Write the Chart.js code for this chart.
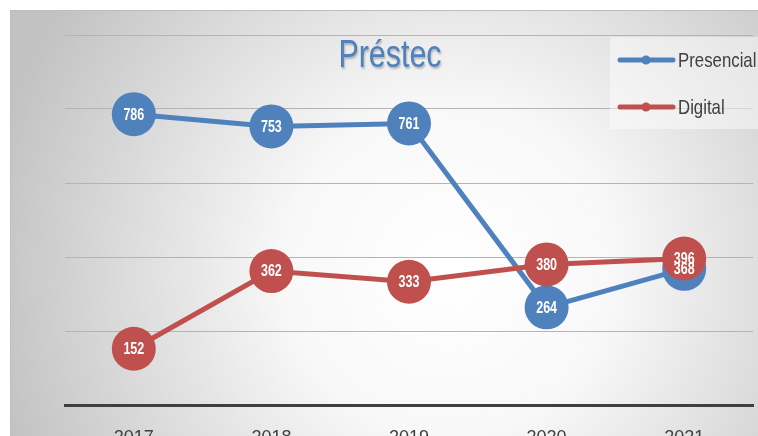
<!DOCTYPE html>
<html>
<head>
<meta charset="utf-8">
<script src="https://cdn.jsdelivr.net/npm/chart.js@4.4.1/dist/chart.umd.min.js"></script>
<style>
  html, body { margin: 0; padding: 0; background: #fff; }
  #wrap { width: 758px; height: 436px; }
</style>
</head>
<body>
<div id="wrap"><canvas id="myChart" width="758" height="436"></canvas></div>
<script>
var years = ["2017", "2018", "2019", "2020", "2021"];
var presencial = [786, 753, 761, 264, 368];
var digital = [152, 362, 333, 380, 396];
var seriesNames = ["Presencial", "Digital"];
var seriesColors = ["#4F81BD", "#C0504D"];
var titleText = "Préstec";
var fontName = "'Liberation Sans', Arial, sans-serif";

// text squeezed sideways, the original uses a narrow face
function narrowText(ctx, text, x, y, squeeze) {
  ctx.save();
  ctx.translate(x, y);
  ctx.scale(squeeze, 1);
  ctx.fillText(text, 0, 0);
  ctx.restore();
}

// gray radial background behind the plot
var backgroundPlugin = {
  id: "bg",
  beforeDraw: function (chart) {
    var ctx = chart.ctx;
    ctx.save();
    var g = ctx.createRadialGradient(450, 270, 0, 450, 270, 470);
    g.addColorStop(0, "#ffffff");
    g.addColorStop(0.35, "#f8f8f8");
    g.addColorStop(1, "#c2c2c2");
    ctx.fillStyle = g;
    ctx.fillRect(10, 10, 748, 426);
    ctx.strokeStyle = "#bdbdbd";
    ctx.lineWidth = 1;
    ctx.beginPath();
    ctx.moveTo(10.5, 436);
    ctx.lineTo(10.5, 10.5);
    ctx.lineTo(758, 10.5);
    ctx.stroke();
    ctx.restore();
  }
};

// title, legend and point labels
var overlayPlugin = {
  id: "overlay",
  afterDatasetsDraw: function (chart) {
    var ctx = chart.ctx;
    ctx.save();
    ctx.fillStyle = "#ffffff";
    ctx.font = "bold 16px " + fontName;
    ctx.textAlign = "center";
    ctx.textBaseline = "middle";
    chart.data.datasets.forEach(function (ds, i) {
      var meta = chart.getDatasetMeta(i);
      meta.data.forEach(function (pt, j) {
        narrowText(ctx, ds.data[j], pt.x, pt.y + 1, 0.78);
      });
    });
    ctx.restore();
  },
  afterDraw: function (chart) {
    var ctx = chart.ctx;
    ctx.save();
    // title
    ctx.font = "38px " + fontName;
    ctx.textAlign = "center";
    ctx.textBaseline = "alphabetic";
    ctx.shadowColor = "rgba(0,0,0,0.25)";
    ctx.shadowOffsetX = 1;
    ctx.shadowOffsetY = 2;
    ctx.shadowBlur = 2;
    ctx.fillStyle = "#4F81BD";
    narrowText(ctx, titleText, 390, 67, 0.8);
    ctx.shadowColor = "transparent";

    // legend
    ctx.fillStyle = "rgba(255,255,255,0.45)";
    ctx.fillRect(610, 37, 148, 92);
    ctx.font = "21px " + fontName;
    ctx.textAlign = "left";
    seriesNames.forEach(function (name, i) {
      var y = 60 + i * 47;
      ctx.strokeStyle = seriesColors[i];
      ctx.lineWidth = 5;
      ctx.lineCap = "round";
      ctx.beginPath();
      ctx.moveTo(620, y);
      ctx.lineTo(673, y);
      ctx.stroke();
      ctx.fillStyle = seriesColors[i];
      ctx.beginPath();
      ctx.arc(646, y, 4.5, 0, Math.PI * 2);
      ctx.fill();
      ctx.fillStyle = "#404040";
      narrowText(ctx, name, 678, y + 7, 0.8);
    });
    ctx.restore();
  }
};

var chartContext = document.getElementById("myChart").getContext("2d");

var chart = new Chart(chartContext, {
  type: "line",
  data: {
    labels: years,
    datasets: [
      {
        label: seriesNames[0],
        data: presencial,
        order: 1,
        borderColor: seriesColors[0],
        backgroundColor: seriesColors[0],
        borderWidth: 5,
        pointRadius: 22,
        pointHoverRadius: 22,
        pointBorderWidth: 0,
        tension: 0
      },
      {
        label: seriesNames[1],
        data: digital,
        order: 0,
        borderColor: seriesColors[1],
        backgroundColor: seriesColors[1],
        borderWidth: 5,
        pointRadius: 22,
        pointHoverRadius: 22,
        pointBorderWidth: 0,
        tension: 0
      }
    ]
  },
  options: {
    responsive: false,
    animation: false,
    layout: { autoPadding: false, padding: { left: 65, right: 5, top: 35, bottom: 0 } },
    plugins: {
      legend: { display: false },
      title: { display: false },
      tooltip: { enabled: false }
    },
    scales: {
      x: {
        offset: true,
        grid: { display: false },
        border: { display: true, color: "#3f3f3f", width: 3 },
        ticks: {
          color: "#404040",
          font: { family: fontName, size: 18 },
          padding: 14
        },
        afterFit: function (scale) { scale.height = 31; }
      },
      y: {
        min: 0,
        max: 1000,
        ticks: { display: false, stepSize: 200 },
        grid: { color: "#b4b4b4", lineWidth: 1, drawTicks: false },
        border: { display: false },
        afterFit: function (scale) { scale.width = 0; }
      }
    }
  },
  plugins: [backgroundPlugin, overlayPlugin]
});
</script>
</body>
</html>
